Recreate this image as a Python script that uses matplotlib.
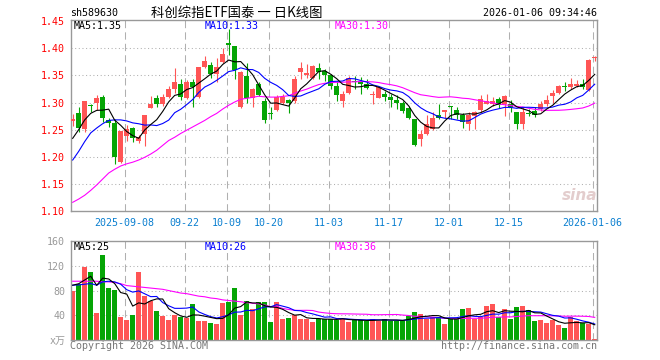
import numpy as np
import matplotlib
matplotlib.use("Agg")
import matplotlib.pyplot as plt

# ---------------- data ----------------
open_ = [1.266, 1.280, 1.251, 1.295, 1.300, 1.310, 1.268, 1.262, 1.190, 1.239,
         1.253, 1.229, 1.242, 1.290, 1.308, 1.297, 1.310, 1.325, 1.335, 1.308,
         1.338, 1.310, 1.366, 1.369, 1.353, 1.374, 1.409, 1.404, 1.292, 1.349,
         1.308, 1.334, 1.303, 1.280, 1.286, 1.300, 1.304, 1.302, 1.357, 1.350,
         1.345, 1.364, 1.358, 1.351, 1.331, 1.302, 1.318, 1.339, 1.340, 1.335,
         1.313, 1.309, 1.315, 1.310, 1.304, 1.299, 1.290, 1.269, 1.233, 1.242,
         1.251, 1.277, 1.283, 1.293, 1.286, 1.277, 1.260, 1.275, 1.286, 1.298,
         1.297, 1.306, 1.297, 1.297, 1.283, 1.260, 1.280, 1.285, 1.288, 1.298,
         1.312, 1.318, 1.329, 1.328, 1.331, 1.335, 1.323, 1.382]
high = [1.279, 1.292, 1.303, 1.298, 1.314, 1.314, 1.272, 1.270, 1.248, 1.258,
        1.255, 1.240, 1.277, 1.312, 1.314, 1.315, 1.331, 1.364, 1.344, 1.341,
        1.344, 1.366, 1.386, 1.374, 1.383, 1.400, 1.435, 1.404, 1.358, 1.372,
        1.326, 1.337, 1.308, 1.291, 1.314, 1.315, 1.306, 1.349, 1.374, 1.371,
        1.369, 1.372, 1.361, 1.353, 1.339, 1.321, 1.349, 1.349, 1.347, 1.343,
        1.321, 1.331, 1.321, 1.315, 1.314, 1.302, 1.294, 1.269, 1.249, 1.277,
        1.282, 1.297, 1.286, 1.294, 1.292, 1.280, 1.283, 1.285, 1.314, 1.315,
        1.310, 1.310, 1.314, 1.304, 1.283, 1.291, 1.288, 1.291, 1.302, 1.314,
        1.323, 1.332, 1.337, 1.345, 1.341, 1.343, 1.380, 1.385]
low = [1.257, 1.245, 1.246, 1.283, 1.286, 1.264, 1.255, 1.187, 1.188, 1.229,
       1.228, 1.226, 1.220, 1.290, 1.292, 1.294, 1.308, 1.318, 1.304, 1.306,
       1.292, 1.308, 1.364, 1.346, 1.337, 1.372, 1.388, 1.343, 1.290, 1.300,
       1.291, 1.312, 1.263, 1.269, 1.285, 1.297, 1.280, 1.300, 1.343, 1.346,
       1.343, 1.343, 1.339, 1.325, 1.303, 1.291, 1.316, 1.325, 1.315, 1.325,
       1.298, 1.308, 1.303, 1.292, 1.288, 1.280, 1.269, 1.220, 1.220, 1.240,
       1.249, 1.269, 1.271, 1.269, 1.269, 1.253, 1.249, 1.251, 1.283, 1.297,
       1.294, 1.290, 1.275, 1.283, 1.251, 1.251, 1.275, 1.273, 1.285, 1.293,
       1.300, 1.315, 1.321, 1.325, 1.328, 1.325, 1.322, 1.377]
close = [1.270, 1.253, 1.302, 1.294, 1.309, 1.272, 1.262, 1.200, 1.247, 1.252,
         1.234, 1.237, 1.277, 1.297, 1.297, 1.310, 1.325, 1.337, 1.310, 1.338,
         1.328, 1.366, 1.377, 1.353, 1.366, 1.389, 1.407, 1.360, 1.356, 1.308,
         1.325, 1.314, 1.268, 1.279, 1.310, 1.310, 1.300, 1.343, 1.364, 1.355,
         1.367, 1.357, 1.351, 1.331, 1.314, 1.315, 1.346, 1.337, 1.334, 1.326,
         1.315, 1.329, 1.310, 1.304, 1.299, 1.285, 1.271, 1.222, 1.242, 1.260,
         1.271, 1.271, 1.286, 1.292, 1.277, 1.265, 1.277, 1.282, 1.306, 1.302,
         1.302, 1.296, 1.312, 1.291, 1.260, 1.283, 1.279, 1.277, 1.297, 1.304,
         1.318, 1.331, 1.328, 1.334, 1.335, 1.329, 1.378, 1.384]
volume = [79, 91, 118, 110, 44, 137, 84, 81, 38, 32,
          40, 110, 72, 64, 47, 39, 32, 40, 38, 36,
          58, 31, 31, 28, 26, 60, 61, 84, 40, 64,
          51, 62, 61, 30, 61, 35, 36, 40, 35, 35,
          30, 35, 35, 35, 33, 35, 29, 33, 32, 31,
          35, 31, 35, 31, 31, 32, 39, 45, 43, 34,
          38, 38, 27, 34, 34, 50, 52, 35, 38, 55,
          58, 37, 50, 34, 53, 55, 48, 31, 33, 28,
          32, 25, 19, 37, 31, 28, 27, 2]

ma5_head = [1.234, 1.250, 1.268, 1.280]
ma10_head = [1.194, 1.210, 1.228, 1.244, 1.253, 1.261, 1.267, 1.268, 1.268]
ma30_head = [1.116, 1.122, 1.129, 1.138, 1.148, 1.159, 1.170, 1.177, 1.183, 1.187,
             1.190, 1.194, 1.199, 1.205, 1.212, 1.221, 1.230, 1.236, 1.243, 1.249,
             1.255, 1.261, 1.267, 1.274, 1.280, 1.288, 1.295, 1.301, 1.306]
vma5_head = [88.6, 91, 97, 103]
vma10_head = [88.6, 89.1, 90.2, 91.3, 88.6, 94, 95, 94, 90.2]
vma30_head = [95, 95, 95, 95, 95, 94, 94, 93, 91, 88,
              87, 86, 85, 84, 83, 82, 80, 78, 76, 75,
              73, 71, 70, 68, 67, 65, 64, 63, 62]

date_index = [9, 19, 26, 33, 43, 53, 63, 73, 87]
date_labels = ["2025-09-08", "09-22", "10-09", "10-20", "11-03",
               "11-17", "12-01", "12-15", "2026-01-06"]
price_ticks = [1.10, 1.15, 1.20, 1.25, 1.30, 1.35, 1.40, 1.45]
vol_ticks = [0, 40, 80, 120, 160]
vol_tick_labels = ["x万", "40", "80", "120", "160"]

symbol = "sh589630"
title = "科创综指ETF国泰 一 日K线图"
timestamp = "2026-01-06 09:34:46"


def moving_avg(vals, n, head):
    vals = np.asarray(vals, float)
    out = list(head)
    for i in range(len(head), len(vals)):
        out.append(vals[i - n + 1:i + 1].mean())
    return np.array(out)


# ---------------- figure ----------------
W, H = 660, 360
fig = plt.figure(figsize=(6.6, 3.6), dpi=100)
fig.patch.set_facecolor("white")


def fx(x):
    return x / W


def fy(y):
    return 1 - y / H


MONO = "DejaVu Sans Mono"
CJK = ["Noto Sans CJK SC", "DejaVu Sans"]
RED = "#ff5555"
GREEN = "#05a505"
GRID = "#b0b0b0"
BORDER = "#999999"
FS = 7.2

L, R = 70.7, 597.3
ax = fig.add_axes([fx(L), fy(211.0), (R - L) / W, (211.0 - 20.0) / H])
axv = fig.add_axes([fx(L), fy(340.3), (R - L) / W, (340.3 - 240.5) / H])

n = len(close)
idx = np.arange(n)
o = np.array(open_)
c = np.array(close)
up = c >= o
colors = np.where(up, RED, GREEN)

xlim = (-0.333, 87.43)
grid_x = [d - 0.333 for d in date_index]

# grid lines
for a in (ax, axv):
    for gx in grid_x:
        a.axvline(gx, color=GRID, lw=0.75, ls=(0, (7, 4)), zorder=0)
    for s in a.spines.values():
        s.set_color(BORDER)
        s.set_linewidth(1.0)
    a.set_xlim(*xlim)

for yv in price_ticks[1:-1]:
    ax.axhline(yv, color=GRID, lw=0.75, ls=(0, (1, 2.5)), zorder=0)
for yv in vol_ticks[1:-1]:
    axv.axhline(yv, color=GRID, lw=0.75, ls=(0, (1, 2.5)), zorder=0)

# candles
ax.vlines(idx, low, high, colors=colors, lw=0.8, zorder=2)
body_bottom = np.minimum(o, c)
body_h = np.maximum(np.abs(c - o), 0.0017)
ax.bar(idx, body_h, bottom=body_bottom, width=0.8, color=colors, linewidth=0, zorder=3)

ma5 = moving_avg(close, 5, ma5_head)
ma10 = moving_avg(close, 10, ma10_head)
ma30 = moving_avg(close, 30, ma30_head)
ax.plot(idx, ma30, color="#ff00ff", lw=0.8, zorder=4)
ax.plot(idx, ma10, color="#0000ff", lw=0.8, zorder=4)
ax.plot(idx, ma5, color="black", lw=0.8, zorder=4)

ax.set_ylim(1.10, 1.4522)
ax.set_yticks(price_ticks)
ax.set_yticklabels([f"{t:.2f}" for t in price_ticks], color="#ff0000",
                   family=MONO, fontsize=FS)
ax.set_xticks(grid_x)
ax.set_xticklabels(date_labels, color="#0a7fd0", family=MONO, fontsize=FS)
ax.tick_params(axis="both", length=0)
ax.tick_params(axis="y", pad=4)
ax.tick_params(axis="x", pad=5)

# volume
axv.bar(idx, volume, width=0.8, color=colors, linewidth=0, zorder=2)
vma5 = moving_avg(volume, 5, vma5_head)
vma10 = moving_avg(volume, 10, vma10_head)
vma30 = moving_avg(volume, 30, vma30_head)
axv.plot(idx, vma30, color="#ff00ff", lw=0.8, zorder=4)
axv.plot(idx, vma10, color="#0000ff", lw=0.8, zorder=4)
axv.plot(idx, vma5, color="black", lw=0.8, zorder=4)
axv.set_ylim(0, 160.5)
axv.set_yticks(vol_ticks)
axv.set_yticklabels(vol_tick_labels, color="#999999", fontsize=FS)
for t in axv.get_yticklabels():
    t.set_family([MONO] + CJK)
axv.set_xticks([])
axv.tick_params(axis="both", length=0)
axv.tick_params(axis="y", pad=4)

# texts
fig.text(fx(70), fy(13), symbol, ha="left", va="center", family=MONO, fontsize=FS)
fig.text(fx(237), fy(13), title, ha="center", va="center", family=CJK, fontsize=9.6)
fig.text(fx(597), fy(13), timestamp, ha="right", va="center", family=MONO, fontsize=FS)

fig.text(fx(74), fy(26), f"MA5:{ma5[-1]:.2f}", ha="left", va="center",
         family=MONO, fontsize=FS, color="black")
fig.text(fx(204.5), fy(26), f"MA10:{ma10[-1]:.2f}", ha="left", va="center",
         family=MONO, fontsize=FS, color="#0000ff")
fig.text(fx(334.5), fy(26), f"MA30:{ma30[-1]:.2f}", ha="left", va="center",
         family=MONO, fontsize=FS, color="#ff00ff")

fig.text(fx(74), fy(246.5), f"MA5:{int(vma5[-1])}", ha="left", va="center",
         family=MONO, fontsize=FS, color="black")
fig.text(fx(204.5), fy(246.5), f"MA10:{int(vma10[-1])}", ha="left", va="center",
         family=MONO, fontsize=FS, color="#0000ff")
fig.text(fx(334.5), fy(246.5), f"MA30:{int(vma30[-1])}", ha="left", va="center",
         family=MONO, fontsize=FS, color="#ff00ff")

fig.text(fx(70), fy(346), "Copyright 2026 SINA.COM", ha="left", va="center",
         family=MONO, fontsize=FS, color="#777777")
fig.text(fx(597), fy(346), "http://finance.sina.com.cn", ha="right", va="center",
         family=MONO, fontsize=FS, color="#777777")

# watermark
fig.text(fx(580), fy(195), "sina", ha="center", va="center", fontsize=11,
         fontweight="bold", style="italic", color="#e3cdcd", zorder=0)

fig.savefig("out.png", dpi=100)
